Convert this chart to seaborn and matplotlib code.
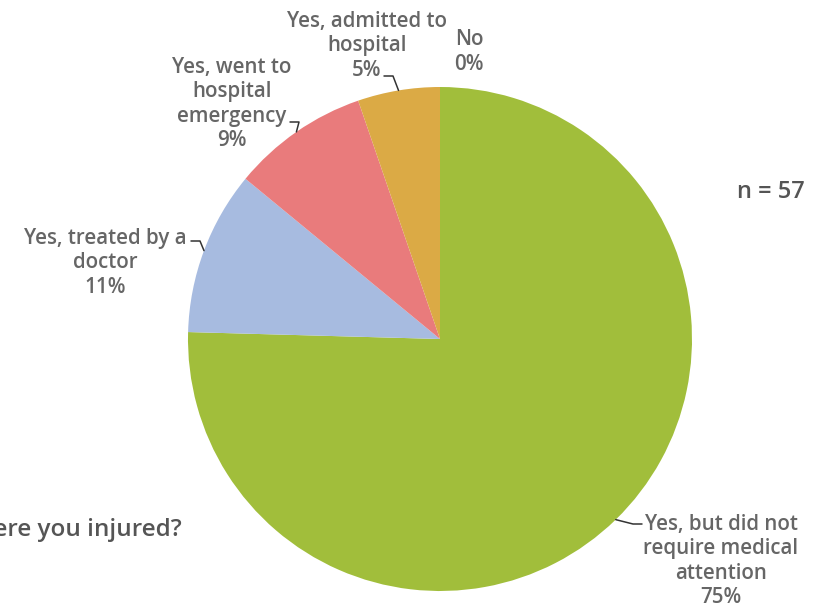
import numpy as np
import matplotlib
matplotlib.use("Agg")
import matplotlib.pyplot as plt
import seaborn as sns

# -------------------------------------------------
# Data (n = 57 respondents)
# -------------------------------------------------
categories = [
    "Yes, but did not\nrequire medical\nattention",
    "Yes, treated by a\ndoctor",
    "Yes, went to\nhospital\nemergency",
    "Yes, admitted to\nhospital",
    "No",
]
counts = [43, 6, 5, 3, 0]
colors = ["#A1BE3B", "#A7BBE0", "#E97B7C", "#DBAA45", "#C9C9C9"]
title = "Were you injured?"
n_label = "n = 57"

# -------------------------------------------------
# Layout (pixel units, y measured from top)
# -------------------------------------------------
W, H = 823, 603
cx, cy, R = 440, 339, 252

# label text centre, leader start, leader direction (+1 right, -1 left, 0 none)
label_pos = [
    (721, 561, (642, 524), -1),
    (105, 263, (191, 241), 1),
    (232, 104, (290, 122), 1),
    (367, 46, (384, 76), 1),
    (469, 52, None, 0),
]

sns.set_theme(style="white")
plt.rcParams["font.family"] = ["Open Sans", "DejaVu Sans"]

fig = plt.figure(figsize=(W / 100, H / 100), dpi=100)
ax = fig.add_axes([0, 0, 1, 1])

wedges, _ = ax.pie(
    counts,
    colors=sns.color_palette(colors),
    startangle=90,
    counterclock=False,
    center=(cx, H - cy),
    radius=R,
    wedgeprops=dict(linewidth=0),
)

pct = [round(100 * c / sum(counts)) for c in counts]

for w, cat, p, (tx, ty, start, side) in zip(wedges, categories, pct, label_pos):
    ax.text(tx, H - ty, f"{cat}\n{p}%", ha="center", va="center",
            fontsize=14.8, fontweight="semibold", color="#666666",
            linespacing=1.2)
    if start is None:
        continue
    ang = np.deg2rad((w.theta1 + w.theta2) / 2)
    ex = cx + R * np.cos(ang)
    ey = (H - cy) + R * np.sin(ang)
    sx, sy = start[0], H - start[1]
    ax.plot([sx, sx + side * 9, ex], [sy, sy, ey], color="#333333", lw=1.1,
            solid_capstyle="round")

ax.text(737, H - 192, n_label, ha="left", va="center", fontsize=17,
        fontweight="semibold", color="#555555")
ax.text(182, H - 530, title, ha="right", va="center", fontsize=17.5,
        fontweight="semibold", color="#555555")

ax.set_xlim(0, W)
ax.set_ylim(0, H)
ax.set_aspect("equal")
ax.axis("off")

fig.savefig("out.png", dpi=100, facecolor="white")
